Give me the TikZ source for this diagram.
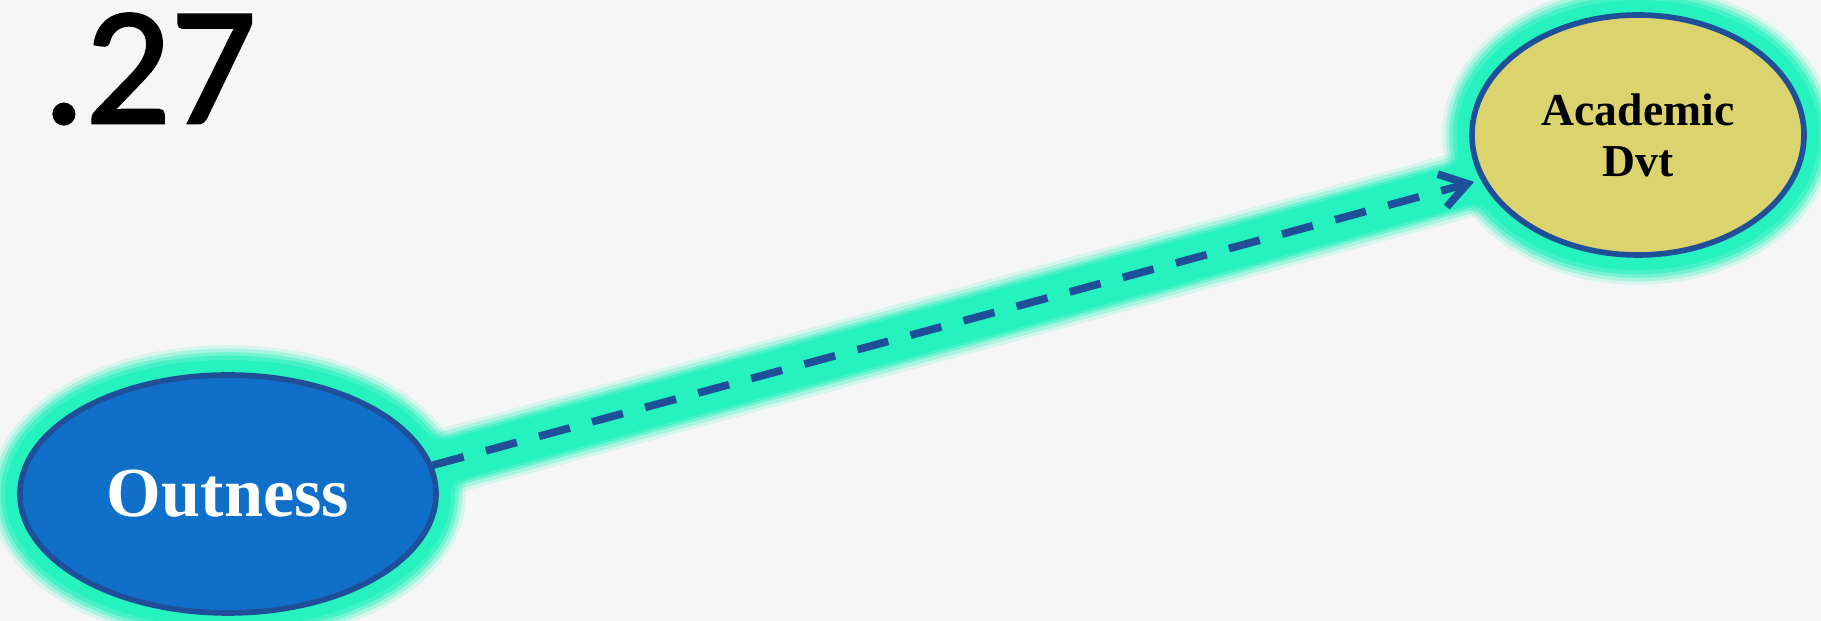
\documentclass[tikz,border=0pt]{standalone}
\usepackage{fontspec}
\setmainfont{Liberation Serif}
\newfontfamily\numfont[FakeBold=1.6]{Carlito}
\usetikzlibrary{arrows.meta,shapes.geometric}
\definecolor{pathback}{HTML}{F6F6F6}
\definecolor{pathglow}{HTML}{25F2BE}
\definecolor{pathedge}{HTML}{1F4F99}
\definecolor{pathblue}{HTML}{106FC8}
\definecolor{pathkhaki}{HTML}{DAD36E}
\pgfdeclarelayer{backdrop}
\pgfdeclarelayer{halo}
\pgfsetlayers{backdrop,halo,main}

\begin{document}
\begin{tikzpicture}[
  pathnode/.style={ellipse,draw=pathedge,line width=1.6pt,inner sep=0pt,
    align=center},
  pathglow/.style={draw=pathglow},
  pathflow/.style={-{Straight Barb[length=2.6mm,width=3.4mm]},draw=pathedge,
    line width=2.2pt,dash pattern=on 3.2mm off 2.3mm},
  pathcoef/.style={font=\numfont\fontsize{48}{50}\selectfont,inner sep=0pt}
]
  \begin{pgfonlayer}{backdrop}
    \fill[pathback] (0,0) rectangle (18.21,6.21);
  \end{pgfonlayer}
  \useasboundingbox (0,0) rectangle (18.21,6.21);

  \node[pathnode,fill=pathblue,text=white,minimum width=4.16cm,
    minimum height=2.38cm,font=\bfseries\fontsize{20}{24}\selectfont]
    (outness) at (2.28,1.27) {Outness};
  \node[pathnode,fill=pathkhaki,text=black,minimum width=3.32cm,
    minimum height=2.40cm,font=\bfseries\fontsize{13}{14.5}\selectfont]
    (academic) at (16.38,4.86) {Academic\\Dvt};

  \node[pathcoef,anchor=base west] (coef) at (0.42,4.98) {.27};

  % glow behind the variables and the path
  \begin{pgfonlayer}{halo}
    \foreach \gw/\go in {17/0.15,15/0.25,13/0.4,11/0.6,8.5/1}{
      \draw[pathglow,line width=\gw pt,opacity=\go] (outness.center)
        ellipse [x radius=2.08cm,y radius=1.19cm];
      \draw[pathglow,line width=\gw pt,opacity=\go] (academic.center)
        ellipse [x radius=1.66cm,y radius=1.20cm];
    }
    \foreach \gw/\go in {19/0.15,17/0.25,15/0.4,13.5/0.6,12/1}{
      \draw[pathglow,line width=\gw pt,opacity=\go,shorten <=-12pt,
        shorten >=-12pt] (outness.8) -- (academic.196);
    }
  \end{pgfonlayer}

  \draw[pathflow,shorten >=2pt] (outness.8) -- (academic.196);
\end{tikzpicture}
\end{document}
